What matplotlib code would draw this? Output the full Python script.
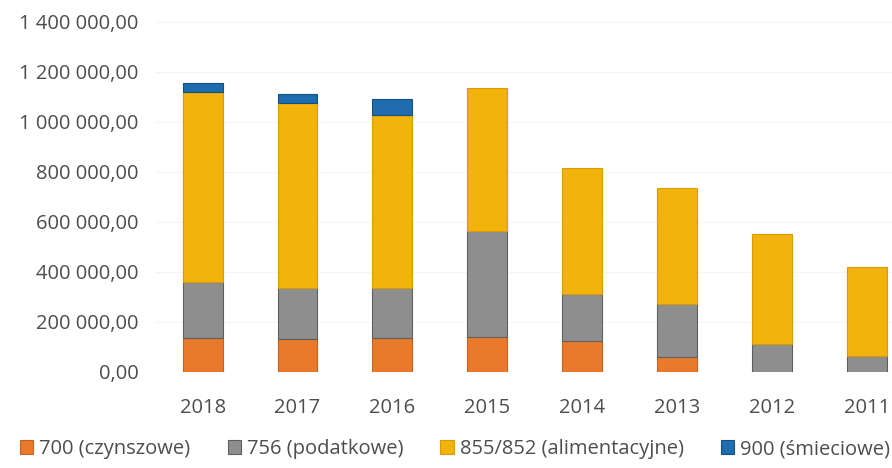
import matplotlib.pyplot as plt
from matplotlib.ticker import FuncFormatter, MultipleLocator

plt.rcParams['font.family'] = ['Open Sans', 'DejaVu Sans']

# --- data ---
years = ["2018", "2017", "2016", "2015", "2014", "2013", "2012", "2011"]
czynszowe = [133000, 129000, 135000, 139000, 122000, 57000, 0, 0]
podatkowe = [226000, 204000, 200000, 423000, 187000, 212000, 109000, 62000]
alimentacyjne = [760000, 744000, 694000, 575000, 508000, 466000, 444000, 357000]
smieciowe = [38000, 33000, 64000, 0, 0, 0, 0, 0]

labels = ["700 (czynszowe)", "756 (podatkowe)", "855/852 (alimentacyjne)", "900 (śmieciowe)"]
colors = ["#E97A2C", "#8E8E8E", "#F2B30C", "#1F6DAE"]
edges = ["#C9611E", "#5E5E5E", "#D89A05", "#17507F"]

fig = plt.figure(figsize=(8.92, 4.68), dpi=100)
ax = fig.add_axes([0.174, 0.206, 0.851, 0.747])

bottom = [0] * len(years)
for vals, lab, col, ec in zip([czynszowe, podatkowe, alimentacyjne, smieciowe], labels, colors, edges):
    # skip empty segments so no edge line is drawn for them
    idx = [i for i, v in enumerate(vals) if v > 0]
    ax.bar(idx, [vals[i] for i in idx], 0.42, bottom=[bottom[i] for i in idx],
           color=col, edgecolor=ec, linewidth=0.8, label=lab, zorder=3)
    bottom = [b + v for b, v in zip(bottom, vals)]

ax.set_xlim(-0.5, 7.5)
ax.set_ylim(0, 1400000)
ax.yaxis.set_major_locator(MultipleLocator(200000))
ax.yaxis.set_major_formatter(FuncFormatter(
    lambda v, p: f"{v:,.2f}".replace(",", " ").replace(".", ",")))
ax.set_xticks(range(len(years)))
ax.set_xticklabels(years)

ax.grid(axis="y", color="#f5f5f5", linewidth=0.8, zorder=0)
for s in ax.spines.values():
    s.set_visible(False)
ax.tick_params(length=0, labelsize=14.5, colors="#4d4d4d")
ax.tick_params(axis="y", pad=12)
ax.tick_params(axis="x", pad=19)

h, l = ax.get_legend_handles_labels()
fig.legend(h, l, loc="center", bbox_to_anchor=(455 / 892, 1 - 449 / 468), ncol=4,
           frameon=False, fontsize=14.5, handlelength=0.65, handleheight=0.65,
           handletextpad=0.3, columnspacing=1.85, labelcolor="#4d4d4d")

fig.savefig("out.png", dpi=100)
